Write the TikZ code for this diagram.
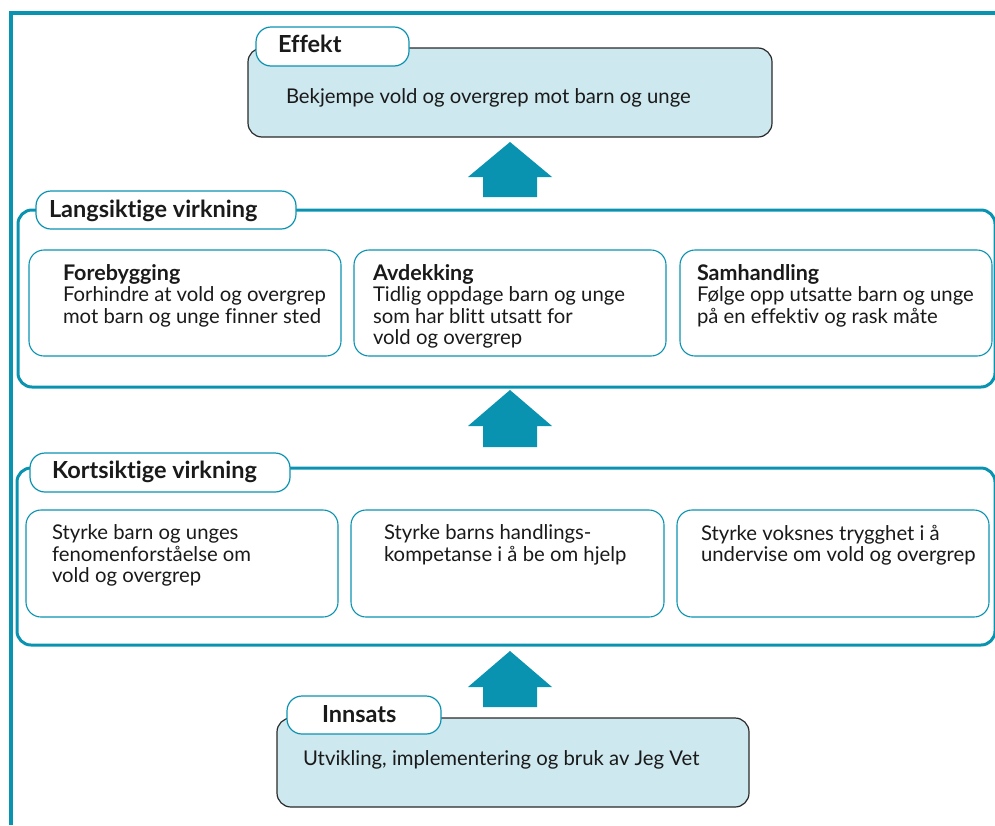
\documentclass[tikz,border=0pt]{standalone}
\usepackage{fontspec}
\setmainfont[Ligatures=CommonOff]{Lato}
\definecolor{teal1}{HTML}{0A93B0}
\definecolor{lblue}{HTML}{CDE8EF}
\definecolor{dark}{HTML}{2A2A2A}
\definecolor{txt}{HTML}{1A1A1A}
\begin{document}
\begin{tikzpicture}[x=1pt,y=-1pt,
  every node/.style={inner sep=0pt, outer sep=0pt, text=txt},
  bluebox/.style={draw=dark, line width=1.2pt, fill=lblue, rounded corners=14pt},
  tab/.style={draw=teal1, line width=1.2pt, fill=white, rounded corners=15pt},
  inner/.style={draw=teal1, line width=1.1pt, fill=white, rounded corners=15pt},
  container/.style={draw=teal1, line width=3pt, rounded corners=14pt},
  ttl/.style={anchor=base west, font=\fontsize{23.5}{26}\selectfont\bfseries},
  sub/.style={anchor=base west, font=\fontsize{21.5}{24}\selectfont\bfseries},
  body/.style={anchor=base west, font=\fontsize{20.3}{21.5}\selectfont, align=left},
  uparrow/.style={fill=teal1, draw=none}
]
\useasboundingbox (0,0) rectangle (995,825);
% outer frame
\draw[teal1, line width=4pt] (995,13) -- (11,13) -- (11,825);

% Effekt
\node[bluebox, minimum width=524, minimum height=89, anchor=north west] (effekt) at (248,48) {};
\node[tab, minimum width=153, minimum height=39, anchor=north west] (effekttab) at (256,27) {};
\node[ttl] (effektt) at (278,52) {Effekt};
\node[body] (effektb) at (286,103) {Bekjempe vold og overgrep mot barn og unge};

% Langsiktige container
\node[container, minimum width=977, minimum height=177, anchor=north west] (lang) at (18,210) {};
\node[tab, minimum width=260, minimum height=38, anchor=north west] (langtab) at (36,191) {};
\node[ttl] (langt) at (49,217) {Langsiktige virkning};

\node[inner, minimum width=312, minimum height=106, anchor=north west] (l1) at (29,250) {};
\node[inner, minimum width=312, minimum height=106, anchor=north west] (l2) at (354,250) {};
\node[inner, minimum width=312, minimum height=106, anchor=north west] (l3) at (680,250) {};
\node[sub] (l1t) at (63,280) {Forebygging};
\node[body, anchor=north west] (l1b) at (63,287) {Forhindre at vold og overgrep\\mot barn og unge finner sted};
\node[sub] (l2t) at (373,280) {Avdekking};
\node[body, anchor=north west] (l2b) at (373,287) {Tidlig oppdage barn og unge\\som har blitt utsatt for\\vold og overgrep};
\node[sub] (l3t) at (697,280) {Samhandling};
\node[body, anchor=north west] (l3b) at (697,287) {Følge opp utsatte barn og unge\\på en effektiv og rask måte};

% Kortsiktige container
\node[container, minimum width=978, minimum height=177, anchor=north west] (kort) at (17,468) {};
\node[tab, minimum width=260, minimum height=39, anchor=north west] (korttab) at (30,453) {};
\node[ttl] (kortt) at (52,478) {Kortsiktige virkning};

\node[inner, minimum width=312, minimum height=107, anchor=north west] (k1) at (26,510) {};
\node[inner, minimum width=313, minimum height=107, anchor=north west] (k2) at (351,510) {};
\node[inner, minimum width=312, minimum height=107, anchor=north west] (k3) at (677,510) {};
\node[body, anchor=north west] (k1b) at (52,525) {Styrke barn og unges\\fenomenforståelse om\\vold og overgrep};
\node[body, anchor=north west] (k2b) at (384,525) {Styrke barns handlings-\\kompetanse i å be om hjelp};
\node[body, anchor=north west] (k3b) at (701,525) {Styrke voksnes trygghet i å\\undervise om vold og overgrep};

% Innsats
\node[bluebox, minimum width=472, minimum height=89, anchor=north west] (inn) at (277,718) {};
\node[tab, minimum width=154, minimum height=38, anchor=north west] (inntab) at (287,696) {};
\node[ttl] (innt) at (322,722) {Innsats};
\node[body] (innb) at (303,765) {Utvikling, implementering og bruk av Jeg Vet};

% arrows
\foreach \ty/\sy/\by in {142/177/197, 390/426/447, 651/687/707}{
  \fill[uparrow] (510,\ty) -- (552,\sy) -- (537,\sy) -- (537,\by) -- (483,\by) -- (483,\sy) -- (468,\sy) -- cycle;
}
\end{tikzpicture}
\end{document}
